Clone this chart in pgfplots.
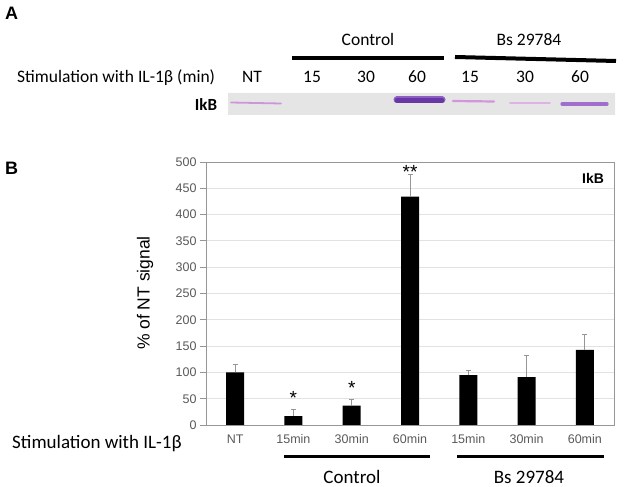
\documentclass[border=0pt]{standalone}
\usepackage{pgfplots}
\pgfplotsset{compat=1.18}
\usepackage{pgfplotstable}
\usepackage{fontspec}
\setmainfont{Carlito}
\newfontfamily\arial{Liberation Sans}
\definecolor{tickgray}{RGB}{89,89,89}
\definecolor{axgray}{RGB}{150,150,150}
\definecolor{gridgray}{RGB}{226,226,226}
\definecolor{errgray}{RGB}{150,150,150}
\definecolor{blotbg}{RGB}{229,229,229}
\definecolor{bandNT}{RGB}{205,150,218}
\definecolor{bandDark}{RGB}{105,55,165}
\definecolor{bandHalo}{RGB}{140,95,195}
\definecolor{bandBsA}{RGB}{210,150,220}
\definecolor{bandBsB}{RGB}{222,178,228}
\definecolor{bandBsC}{RGB}{160,110,205}

\pgfplotstableread{
x y err
0 100 16
1 17 13
2 37 12
3 434 43
4 95 9
5 91 42
6 143 30
}\datatable

\begin{document}
\begin{tikzpicture}
\path[use as bounding box] (0,0) rectangle (624bp,487bp);

% ---------- Panel A: blot strip ----------
\begin{axis}[at={(228bp,372bp)}, anchor=south west, scale only axis,
  width=387bp, height=22bp, xmin=228, xmax=615, ymin=93, ymax=115,
  y dir=reverse, axis lines=none, ticks=none]
\addplot[fill=blotbg, draw=none] coordinates {(228,93)(615,93)(615,115)(228,115)(228,93)};
\addplot[bandNT, line width=1.8bp, line cap=round] coordinates {(231,102.5)(281,103.5)};
\addplot[bandHalo, line width=7bp, line cap=round] coordinates {(397,100)(442,100)};
\addplot[bandDark, line width=4.5bp, line cap=round] coordinates {(397,100.5)(442,100.5)};
\addplot[bandBsA, line width=2.2bp, line cap=round] coordinates {(453,101)(494,101.5)};
\addplot[bandBsB, line width=1.8bp, line cap=round] coordinates {(510,103)(550,103)};
\addplot[bandBsC, line width=3.2bp, line cap=round] coordinates {(562,104)(607,104)};
\end{axis}

% ---------- Panel B: bar chart ----------
\begin{axis}[at={(206bp,62bp)}, anchor=south west, scale only axis,
  width=408bp, height=263bp,
  xmin=-0.5, xmax=6.5, ymin=0, ymax=500,
  ytick={0,50,...,500},
  xtick={0,...,6},
  xticklabels={NT,15min,30min,60min,15min,30min,60min},
  ymajorgrids, grid style={gridgray, line width=0.8bp},
  axis line style={axgray, line width=0.8bp},
  tick align=outside, major tick length=6bp,
  ytick pos=left, xtick pos=bottom,
  x tick style={draw=none},
  y tick style={axgray, line width=0.8bp},
  tick label style={font=\arial\fontsize{12.5bp}{14bp}\selectfont, text=tickgray},
  /pgf/number format/assume math mode=true,
  clip=false]
\addplot[ybar, bar width=18bp, fill=black, draw=none,
  error bars/.cd, y dir=plus, y explicit,
  error bar style={errgray, line width=0.8bp},
  error mark options={errgray, rotate=90, mark size=2.5bp, line width=0.8bp}]
  table[x=x, y=y, y error=err]{\datatable};
\node[font=\arial\fontsize{19bp}{20bp}\selectfont] at (axis cs:1,51) {*};
\node[font=\arial\fontsize{19bp}{20bp}\selectfont] at (axis cs:2,70) {*};
\node[font=\arial\fontsize{19bp}{20bp}\selectfont] at (axis cs:3,481) {**};
\end{axis}

% ---------- Text and annotation lines ----------
\node[anchor=base west, inner sep=0, font=\arial\bfseries\fontsize{18bp}{20bp}\selectfont] at (5bp,467bp) {A};
\node[anchor=base west, inner sep=0, font=\arial\bfseries\fontsize{18bp}{20bp}\selectfont] at (5bp,312bp) {B};

\node[anchor=base, inner sep=0, font=\fontsize{17.5bp}{20bp}\selectfont] at (368bp,441bp) {Control};
\node[anchor=base, inner sep=0, font=\fontsize{17.5bp}{20bp}\selectfont] at (529bp,441bp) {Bs 29784};
\draw[line width=4bp] (292bp,429bp) -- (444bp,429bp);
\draw[line width=4bp] (455bp,430bp) -- (616bp,426bp);

\node[anchor=base west, inner sep=0, font=\fontsize{17.5bp}{20bp}\selectfont] at (17bp,404bp) {Stimulation with IL-1β (min)};
\foreach \xx/\tt in {252/NT,312/15,366/30,417/60,470/15,525/30,580/60}
  \node[anchor=base, inner sep=0, font=\fontsize{17.5bp}{20bp}\selectfont] at (\xx bp,404bp) {\tt};
\node[anchor=base, inner sep=0, font=\bfseries\fontsize{17bp}{20bp}\selectfont] at (206bp,376bp) {IkB};

\node[anchor=base, inner sep=0, font=\arial\bfseries\fontsize{14bp}{16bp}\selectfont] at (593bp,303bp) {IkB};
\node[rotate=90, inner sep=0, font=\arial\fontsize{17.5bp}{18bp}\selectfont] at (145bp,194bp) {\% of NT signal};

\node[anchor=base west, inner sep=0, font=\fontsize{19bp}{22bp}\selectfont] at (12bp,39bp) {Stimulation with IL-1β};
\draw[line width=3bp] (284bp,30bp) -- (430bp,30bp);
\draw[line width=3bp] (457bp,30bp) -- (604bp,30bp);
\node[anchor=base, inner sep=0, font=\fontsize{19bp}{22bp}\selectfont] at (352bp,4bp) {Control};
\node[anchor=base, inner sep=0, font=\fontsize{19bp}{22bp}\selectfont] at (529bp,4bp) {Bs 29784};
\end{tikzpicture}
\end{document}
